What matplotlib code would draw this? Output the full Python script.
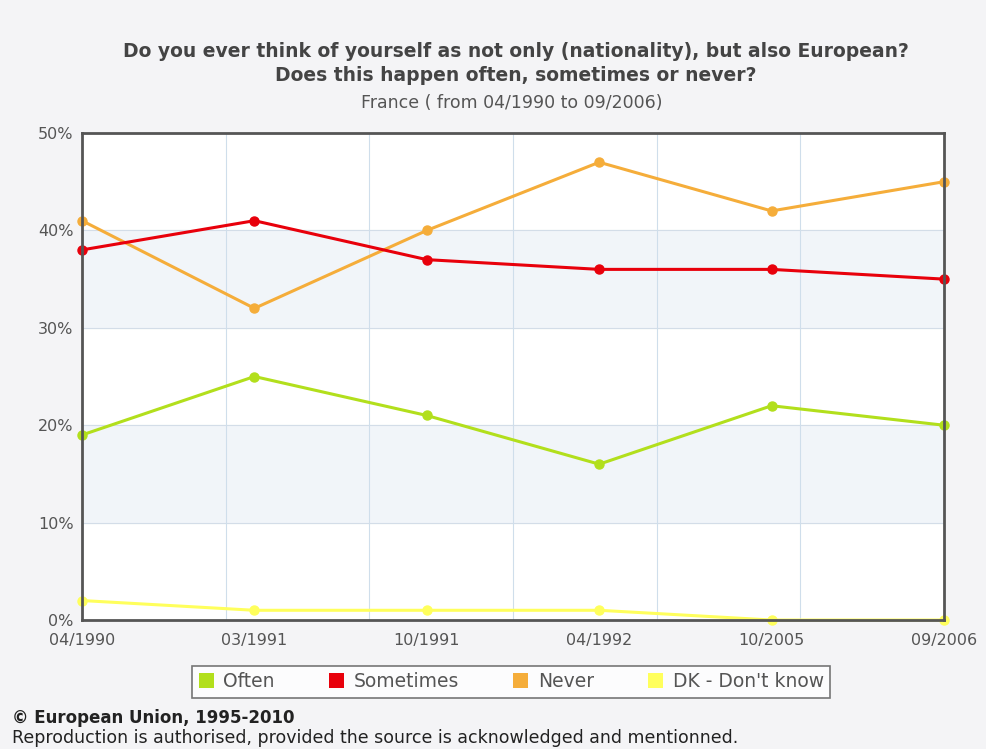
import matplotlib.pyplot as plt
from matplotlib.patches import Patch

# survey waves
waves = ['04/1990', '03/1991', '10/1991', '04/1992', '10/2005', '09/2006']

often = [19, 25, 21, 16, 22, 20]
sometimes = [38, 41, 37, 36, 36, 35]
never = [41, 32, 40, 47, 42, 45]
dont_know = [2, 1, 1, 1, 0, 0]

series_names = ['Often', 'Sometimes', 'Never', "DK - Don't know"]
series_colors = ['#b2df1c', '#e8000b', '#f5ad3a', '#ffff5c']

fig = plt.figure(figsize=(9.87, 7.49), dpi=100)
fig.patch.set_facecolor('#f4f4f6')
ax = fig.add_axes([0.0831, 0.1722, 0.8733, 0.6502])
ax.set_facecolor('white')

n = len(waves)
xs = list(range(n))

# alternating bands
for lo, hi in [(10, 20), (30, 40)]:
    ax.axhspan(lo, hi, color='#f1f5f9', zorder=0)
for y in [10, 20, 30, 40]:
    ax.axhline(y, color='#d3dde8', lw=0.8, zorder=1)
for k in range(1, 6):
    ax.axvline(k * (n - 1) / 6, color='#cfdeeb', lw=0.8, zorder=1)

for vals, col in zip([dont_know, often, never, sometimes],
                     [series_colors[3], series_colors[0], series_colors[2], series_colors[1]]):
    ax.plot(xs, vals, color=col, lw=2.2, marker='o', markersize=6.5,
            clip_on=False, zorder=3)

ax.set_xlim(0, n - 1)
ax.set_ylim(0, 50)
ax.set_yticks([0, 10, 20, 30, 40, 50])
ax.set_yticklabels(['0%', '10%', '20%', '30%', '40%', '50%'])
ax.set_xticks(xs)
ax.set_xticklabels(waves)
ax.tick_params(length=0, labelsize=11.5, labelcolor='#555555')
ax.tick_params(axis='x', pad=9)
ax.tick_params(axis='y', pad=6)
for s in ax.spines.values():
    s.set_color('#555555')
    s.set_linewidth(2)
    s.set_zorder(4)

fig.text(0.523, 0.931, 'Do you ever think of yourself as not only (nationality), but also European?',
         ha='center', va='center', fontsize=13.5, fontweight='bold', color='#444444')
fig.text(0.523, 0.899, 'Does this happen often, sometimes or never?',
         ha='center', va='center', fontsize=13.5, fontweight='bold', color='#444444')
fig.text(0.518, 0.862, 'France ( from 04/1990 to 09/2006)',
         ha='center', va='center', fontsize=12.5, color='#555555')

handles = [Patch(facecolor=c, edgecolor='none') for c in series_colors]
leg = fig.legend(handles, series_names, loc='center', bbox_to_anchor=(0.518, 0.09),
                 ncol=4, fontsize=13.5, frameon=True, fancybox=False,
                 handlelength=0.8, handleheight=0.8, handletextpad=0.5,
                 columnspacing=2.9, borderpad=0.35)
leg.get_frame().set_edgecolor('#555555')
leg.get_frame().set_linewidth(1.2)
for t in leg.get_texts():
    t.set_color('#555555')

fig.text(0.012, 0.042, '\u00a9 European Union, 1995-2010', ha='left', va='center',
         fontsize=12, fontweight='bold', color='#222222')
fig.text(0.012, 0.015, 'Reproduction is authorised, provided the source is acknowledged and mentionned.',
         ha='left', va='center', fontsize=12.5, color='#222222')

fig.savefig('out.png', dpi=100, facecolor=fig.get_facecolor())
